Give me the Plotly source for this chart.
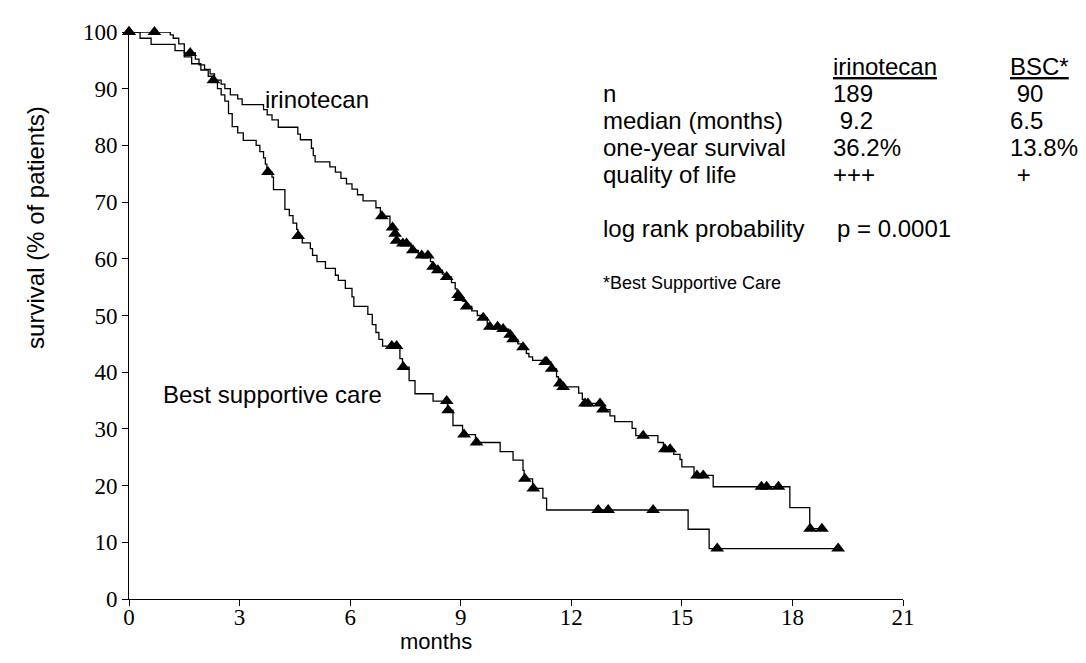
import plotly.graph_objects as go

# ---- data ----
# Kaplan-Meier step curves: time (months) where each level starts, survival (%)
irino_t = [0, 1.12, 1.2, 1.35, 1.5, 1.8, 1.9, 2.05, 2.2, 2.32, 2.5, 2.6, 2.75, 2.95, 3.07,
           3.65, 3.75, 3.88, 4.05, 4.58, 4.65, 4.95, 5.0, 5.05, 5.45, 5.6, 5.75, 5.9, 6.05,
           6.2, 6.35, 6.7, 6.82, 7.08, 7.13, 7.2, 7.25, 7.4, 7.65, 7.85, 8.18, 8.23, 8.35,
           8.5, 8.58, 8.75, 8.85, 8.9, 8.96, 9.05, 9.13, 9.3, 9.45, 9.55, 9.72, 9.77, 10.1,
           10.3, 10.4, 10.55, 10.65, 10.78, 10.85, 10.95, 11.25, 11.45, 11.6, 11.65, 11.75,
           12.2, 12.3, 12.35, 12.83, 13.05, 13.18, 13.65, 13.75, 14.35, 14.5, 14.78, 14.95,
           15.0, 15.33, 15.85, 17.93, 18.47, 18.9]
irino_s = [100, 99.5, 98.9, 97.9, 96.3, 95.2, 94.2, 93.4, 92.6, 91.5, 90.8, 90.0, 88.9, 88.2, 87.2,
           86.3, 85.4, 84.5, 83.2, 82.0, 81.0, 79.5, 78.2, 77.1, 76.2, 75.3, 74.2, 73.2, 72.3,
           71.3, 70.2, 69.0, 67.5, 66.0, 65.5, 64.4, 63.2, 62.7, 61.5, 60.6, 59.5, 58.6, 58.0,
           57.3, 56.8, 55.8, 54.7, 53.6, 53.1, 52.5, 51.6, 50.8, 50.0, 49.6, 48.5, 48.0, 47.6,
           46.6, 45.8, 45.0, 44.4, 43.3, 42.7, 42.1, 41.8, 40.6, 39.2, 38.0, 37.4,
           36.3, 35.2, 34.5, 33.4, 32.3, 31.3, 30.1, 28.8, 27.6, 26.4, 25.5, 24.6,
           23.3, 21.8, 19.8, 16.1, 12.4, 12.4]

bsc_t = [0, 0.3, 0.6, 1.25, 1.5, 1.7, 1.95, 2.15, 2.25, 2.4, 2.5, 2.6, 2.7, 2.8, 2.95, 3.1,
         3.45, 3.55, 3.65, 3.7, 3.74, 3.88, 3.92, 4.23, 4.35, 4.45, 4.55, 4.58, 4.7, 4.92,
         4.98, 5.1, 5.33, 5.6, 5.68, 5.87, 6.05, 6.1, 6.48, 6.6, 6.7, 6.78, 6.88, 7.35, 7.42,
         7.6, 7.76, 8.25, 8.64, 8.79, 9.05, 9.4, 10.07, 10.42, 10.69, 10.72, 10.95, 11.23,
         11.33, 15.17, 15.74, 19.24]
bsc_s = [100, 98.9, 97.8, 96.7, 95.6, 94.4, 93.3, 92.2, 91.5, 90.0, 88.9, 87.8, 85.6, 83.3, 82.2, 80.9,
         80.0, 78.9, 77.8, 76.7, 75.3, 74.4, 72.2, 68.7, 67.6, 66.3, 65.2, 64.0, 62.8, 61.8,
         60.6, 59.5, 58.3, 57.1, 56.2, 54.8, 53.3, 51.6, 50.2, 48.4, 47.0, 45.8, 44.6, 42.4, 40.9,
         38.5, 36.2, 34.9, 33.3, 30.6, 29.0, 27.6, 26.0, 24.5, 22.7, 21.2, 19.5, 17.8,
         15.7, 12.3, 8.9, 8.9]

# censored observations (triangles)
irino_cens_t = [0, 0.69, 1.66, 6.86, 7.15, 7.22, 7.26, 7.43, 7.53, 7.7, 7.94, 8.11, 8.25, 8.38,
                8.62, 8.93, 8.98, 9.16, 9.61, 9.79, 10.0, 10.15, 10.34, 10.42, 10.69, 11.29, 11.33,
                11.47, 11.69, 11.78, 12.37, 12.45, 12.78, 12.86, 13.95, 14.54, 14.68, 15.41, 15.58,
                17.16, 17.3, 17.62, 18.48, 18.8]
irino_cens_s = [100, 100, 96.3, 67.5, 65.5, 64.4, 63.2, 62.7, 62.7, 61.5, 60.6, 60.6, 58.6, 58.0,
                56.8, 53.6, 53.1, 51.6, 49.6, 48.0, 48.0, 47.6, 46.6, 45.8, 44.4, 41.8, 41.8,
                40.6, 38.0, 37.4, 34.5, 34.5, 34.5, 33.4, 28.8, 26.4, 26.4, 21.8, 21.8,
                19.8, 19.8, 19.8, 12.4, 12.4]
bsc_cens_t = [0, 2.29, 3.77, 4.59, 7.13, 7.26, 7.44, 8.62, 8.66, 9.09, 9.43, 10.74, 10.97,
              12.73, 13.0, 14.22, 15.96, 19.24]
bsc_cens_s = [100, 91.5, 75.3, 64.0, 44.6, 44.6, 40.9, 34.9, 33.3, 29.0, 27.6, 21.2, 19.5,
              15.7, 15.7, 15.7, 8.9, 8.9]

x_ticks = [0, 3, 6, 9, 12, 15, 18, 21]
y_ticks = [0, 10, 20, 30, 40, 50, 60, 70, 80, 90, 100]

table_rows = ["n", "median (months)", "one-year survival", "quality of life"]
table_irino = ["189", " 9.2", "36.2%", "+++"]
table_bsc = [" 90", "6.5", "13.8%", " +"]

SANS = "Liberation Sans, Arial, sans-serif"
SERIF = "Liberation Serif, Times New Roman, serif"

fig = go.Figure()
for t, s in [(irino_t, irino_s), (bsc_t, bsc_s)]:
    fig.add_trace(go.Scatter(x=t, y=s, mode="lines", line=dict(color="black", width=1.3, shape="hv"),
                             showlegend=False, hoverinfo="skip", cliponaxis=False))
for t, s in [(irino_cens_t, irino_cens_s), (bsc_cens_t, bsc_cens_s)]:
    fig.add_trace(go.Scatter(x=t, y=s, mode="markers",
                             marker=dict(symbol="triangle-up", size=12, color="black"),
                             showlegend=False, cliponaxis=False))

# plot-area edges in the reference picture (pixels)
L, R, T, B = 129, 903, 23, 599
OFF = 8  # page body margin of the browser
W, H = 1086 - 2 * OFF, 663 - 2 * OFF


def px(xp):
    return (xp - L) / (R - L)


def py(yp):
    return (B - yp) / (B - T)


ann = []


def text(xp, yp, s, size=24, **kw):
    ann.append(dict(x=px(xp), y=py(yp), xref="paper", yref="paper", text=s, showarrow=False,
                    xanchor=kw.get("xanchor", "left"), yanchor="middle",
                    font=dict(family=SANS, size=size, color="black"),
                    textangle=kw.get("textangle", 0)))


text(263, 92, "irinotecan")
text(161, 391, "Best supportive care")
text(831, 58, "<u>irinotecan</u>")
text(1008, 58, "<u>BSC*</u>")
row_y = [85, 113, 140, 168]
for i, lab in enumerate(table_rows):
    text(601, row_y[i], lab)
    text(831, row_y[i], table_irino[i])
    text(1008, row_y[i], table_bsc[i])
text(601, 223, "log rank probability")
text(835, 223, "p = 0.0001")
text(601, 278, "*Best Supportive Care", size=18)
text(436, 642, "months", size=22, xanchor="center")
text(36, 222, "survival (% of patients)", xanchor="center", textangle=-90)

fig.update_layout(
    width=W, height=H,
    margin=dict(l=L - OFF, r=W - (R - OFF), t=T - OFF, b=H - (B - OFF), pad=0),
    paper_bgcolor="white", plot_bgcolor="white",
    annotations=ann,
    xaxis=dict(range=[0, 21], tickvals=x_ticks, ticks="outside", ticklen=6, tickwidth=1,
               tickcolor="black", showline=True, linecolor="black", linewidth=1,
               showgrid=False, zeroline=False, ticklabelstandoff=-9,
               tickfont=dict(family=SERIF, size=23, color="black")),
    yaxis=dict(range=[0, 100], tickvals=y_ticks, ticks="outside", ticklen=6, tickwidth=1,
               tickcolor="black", showline=True, linecolor="black", linewidth=1,
               showgrid=False, zeroline=False,
               tickfont=dict(family=SERIF, size=23, color="black")),
)

fig.write_html("out.html")
